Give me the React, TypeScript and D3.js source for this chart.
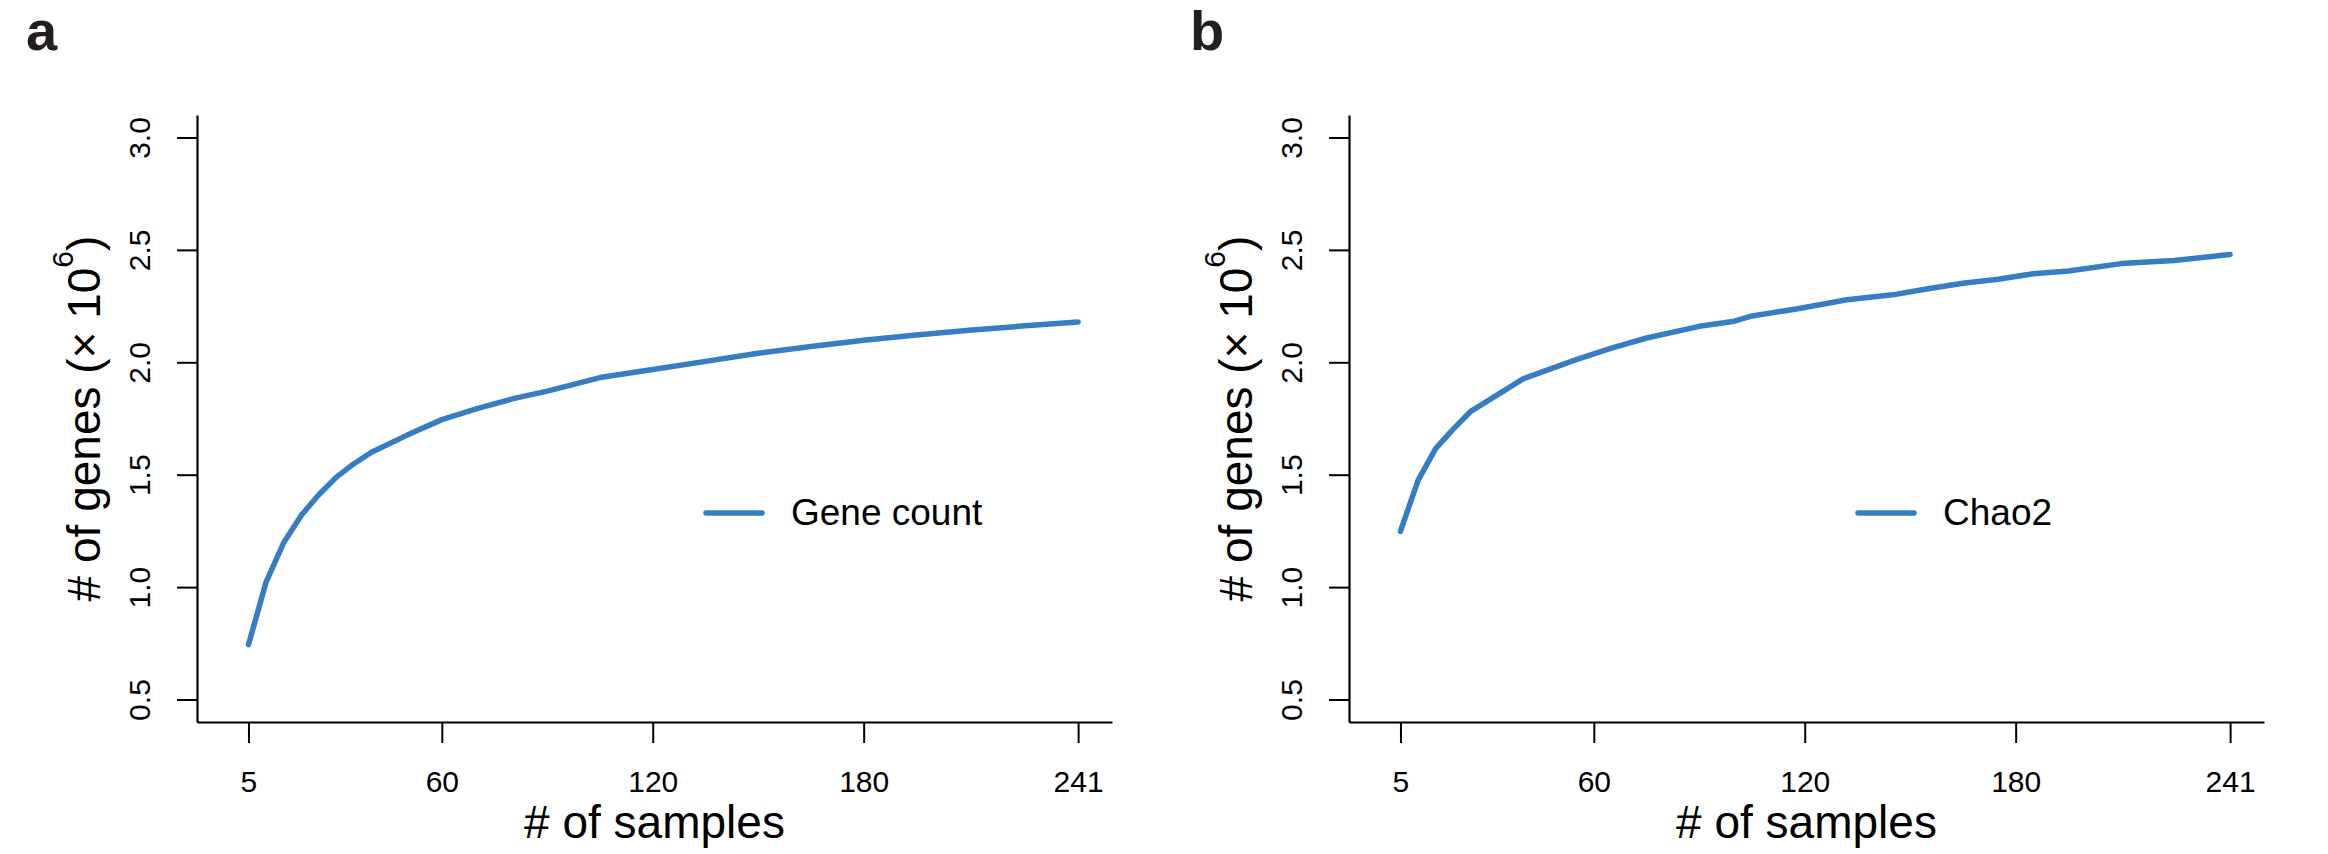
import React, { useEffect, useRef } from 'react';
import * as d3 from 'd3';

// values (genes in millions)
const geneCountSamples = [5, 10, 15, 20, 25, 30, 35, 40, 50, 60, 70, 80, 90, 105, 120, 135, 150, 165, 180, 195, 210, 225, 241];
const geneCountValues = [0.744, 1.022, 1.197, 1.319, 1.411, 1.489, 1.549, 1.6, 1.675, 1.745, 1.794, 1.837, 1.872, 1.932, 1.968, 2.004, 2.04, 2.07, 2.098, 2.121, 2.143, 2.161, 2.179];

const chao2Samples = [5, 10, 15, 20, 25, 40, 55, 65, 75, 90, 100, 105, 118, 132, 145, 155, 165, 175, 185, 195, 210, 225, 241];
const chao2Values = [1.248, 1.475, 1.616, 1.703, 1.782, 1.927, 2.012, 2.063, 2.108, 2.16, 2.183, 2.206, 2.238, 2.278, 2.3, 2.327, 2.352, 2.369, 2.394, 2.406, 2.439, 2.453, 2.479];

const xTicks = [5, 60, 120, 180, 241];
const yTicks = [0.5, 1.0, 1.5, 2.0, 2.5, 3.0];

const panels = [
  { label: 'a', legend: 'Gene count', samples: geneCountSamples, values: geneCountValues, offset: 0 },
  { label: 'b', legend: 'Chao2', samples: chao2Samples, values: chao2Values, offset: 1152 },
];

const FONT = '"Liberation Sans", Arial, Helvetica, sans-serif';
const BLUE = '#377dc3';

const App = () => {
  const ref = useRef<SVGSVGElement>(null);

  useEffect(() => {
    const svg = d3.select(ref.current);
    svg.selectAll('*').remove();

    const top = 115;
    const bottom = 722;

    panels.forEach((p) => {
      const left = 197 + p.offset;
      const right = 1112 + p.offset;

      const x = d3.scaleLinear().domain([-9.64, 250.64]).range([left, right]);
      const y = d3.scaleLinear().domain([0.4, 3.1]).range([bottom, top]);

      const g = svg.append('g');

      // panel letter
      g.append('text')
        .attr('x', p.offset === 0 ? 26 : 1190)
        .attr('y', 50)
        .attr('font-family', FONT)
        .attr('font-weight', 'bold')
        .attr('font-size', 56)
        .attr('fill', '#231f20')
        .text(p.label);

      const xAxis = g.append('g')
        .attr('transform', `translate(0,${bottom})`)
        .call(d3.axisBottom(x).tickValues(xTicks).tickSize(21).tickSizeOuter(0).tickFormat(d3.format('d')));
      xAxis.select('.domain').attr('stroke-width', 2.2);
      xAxis.selectAll('.tick line').attr('stroke-width', 2);
      xAxis.selectAll('.tick text')
        .attr('y', 70)
        .attr('dy', null)
        .attr('font-family', FONT)
        .attr('font-size', 30)
        .attr('fill', '#000');

      const yAxis = g.append('g')
        .attr('transform', `translate(${left},0)`)
        .call(d3.axisLeft(y).tickValues(yTicks).tickSize(20).tickSizeOuter(0).tickFormat(d3.format('.1f')));
      yAxis.select('.domain').attr('stroke-width', 2.2);
      yAxis.selectAll('.tick line').attr('stroke-width', 2);
      yAxis.selectAll('.tick text')
        .attr('x', 0)
        .attr('y', -47)
        .attr('dy', null)
        .attr('transform', 'rotate(-90)')
        .attr('text-anchor', 'middle')
        .attr('font-family', FONT)
        .attr('font-size', 30)
        .attr('fill', '#000');

      // axis titles
      g.append('text')
        .attr('x', (left + right) / 2)
        .attr('y', 838)
        .attr('text-anchor', 'middle')
        .attr('font-family', FONT)
        .attr('font-size', 46)
        .text('# of samples');

      const yTitle = g.append('text')
        .attr('transform', `translate(${100 + p.offset},${(top + bottom) / 2}) rotate(-90)`)
        .attr('text-anchor', 'middle')
        .attr('font-family', FONT)
        .attr('font-size', 46);
      yTitle.append('tspan').text('# of genes (× 10');
      yTitle.append('tspan').attr('font-size', 30).attr('dy', -27).text('6');
      yTitle.append('tspan').attr('dy', 27).text(')');

      const line = d3.line<number>()
        .x((_, i) => x(p.samples[i]))
        .y((d) => y(d));

      g.append('path')
        .datum(p.values)
        .attr('d', line)
        .attr('fill', 'none')
        .attr('stroke', BLUE)
        .attr('stroke-width', 5.5)
        .attr('stroke-linejoin', 'round')
        .attr('stroke-linecap', 'round');

      // legend
      g.append('line')
        .attr('x1', 706 + p.offset)
        .attr('x2', 762 + p.offset)
        .attr('y1', 513)
        .attr('y2', 513)
        .attr('stroke', BLUE)
        .attr('stroke-width', 5.5)
        .attr('stroke-linecap', 'round');

      g.append('text')
        .attr('x', 791 + p.offset)
        .attr('y', 525)
        .attr('font-family', FONT)
        .attr('font-size', 37)
        .text(p.legend);
    });
  }, []);

  return (
    <svg
      ref={ref}
      width={2328}
      height={854}
      style={{ position: 'absolute', left: 0, top: 0, background: '#fff' }}
    ></svg>
  );
};

export default App;
